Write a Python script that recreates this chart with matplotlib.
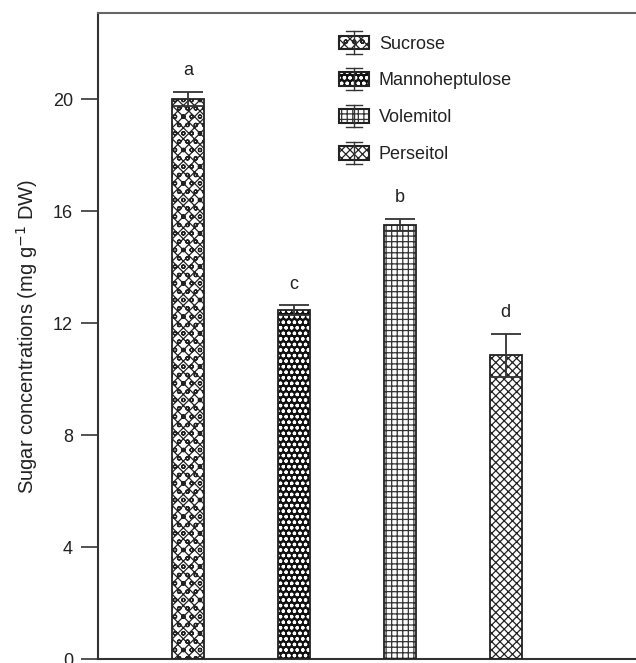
import matplotlib
matplotlib.use("Agg")
import matplotlib.pyplot as plt
from matplotlib.patches import Rectangle
from matplotlib.lines import Line2D
from matplotlib.legend_handler import HandlerBase

categories = ["Sucrose", "Mannoheptulose", "Volemitol", "Perseitol"]
values = [20.0, 12.45, 15.5, 10.85]
errors = [0.25, 0.18, 0.22, 0.77]
letters = ["a", "c", "b", "d"]
yticks = [0, 4, 8, 12, 16, 20]

plt.rcParams['font.family'] = ['Liberation Sans', 'DejaVu Sans']
plt.rcParams['hatch.linewidth'] = 0.9

fig = plt.figure(figsize=(6.36, 6.63), dpi=100)
ax = fig.add_axes([98/636, 1-659/663, 1-98/636, (659-13)/663])

x = list(range(len(categories)))
width = 0.30
styles = [
    dict(face='white', hatch='xxxoo', hcol='#222222'),
    dict(face='#111111', hatch='ooo', hcol='white'),
    dict(face='white', hatch='+++', hcol='#333333'),
    dict(face='white', hatch='xxxx', hcol='#222222'),
]
for xi, v, st in zip(x, values, styles):
    ax.bar(xi, v, width, color=st['face'], edgecolor=st['hcol'], hatch=st['hatch'], linewidth=0, zorder=2)
    ax.bar(xi, v, width, fill=False, edgecolor='#222222', linewidth=1.3, zorder=3)

ax.errorbar(x, values, yerr=errors, fmt='none', ecolor='#333333', elinewidth=1.3,
            capsize=10.5, capthick=1.3, zorder=4)
for xi, v, e, l in zip(x, values, errors, letters):
    ax.text(xi, v + e + 0.45, l, ha='center', va='bottom', fontsize=13, color='#222222')

ax.set_xlim(-0.85, 4.23)
ax.set_ylim(0, (659-13)/28)
ax.set_yticks(yticks)
ax.set_yticklabels([str(t) for t in yticks], fontsize=13, color='#222222')
ax.set_xticks([])
ax.tick_params(axis='y', direction='out', length=12, width=1.3, color='#444444', pad=6)
ax.spines['right'].set_visible(False)
ax.spines['left'].set_color('#333333')
ax.spines['bottom'].set_color('#333333')
ax.spines['top'].set_color('#666666')
for s in ['left', 'bottom', 'top']:
    ax.spines[s].set_linewidth(1.5)
ax.set_ylabel("Sugar concentrations (mg g$^{-1}$ DW)", fontsize=14.5, color='#222222', labelpad=9)


class BarHandle:
    def __init__(self, st):
        self.st = st


class HandlerBar(HandlerBase):
    def create_artists(self, legend, orig_handle, xdescent, ydescent, width, height, fontsize, trans):
        st = orig_handle.st
        rh = height * 0.75
        y0 = -ydescent + (height - rh) / 2
        r1 = Rectangle((-xdescent, y0), width, rh, facecolor=st['face'], edgecolor=st['hcol'],
                       hatch=st['hatch'], linewidth=0, transform=trans)
        r2 = Rectangle((-xdescent, y0), width, rh, fill=False, edgecolor='#222222',
                       linewidth=1.5, transform=trans)
        cx = -xdescent + width / 2
        ytop = -ydescent + height * 1.1
        ybot = -ydescent - height * 0.1
        l1 = Line2D([cx, cx], [ybot, ytop], color='#333333', lw=1.0, transform=trans)
        l2 = Line2D([cx - width * 0.28, cx + width * 0.28], [ytop, ytop], color='#333333', lw=1.0, transform=trans)
        l3 = Line2D([cx - width * 0.28, cx + width * 0.28], [ybot, ybot], color='#333333', lw=1.0, transform=trans)
        return [r1, r2, l1, l2, l3]


handles = [BarHandle(st) for st in styles]
leg = ax.legend(handles, categories, loc='upper left', bbox_to_anchor=((332-98)/538, 1-(26-13)/646),
                frameon=False, fontsize=13, handlelength=1.65, handleheight=1.2,
                labelspacing=0.97, handletextpad=0.55, borderaxespad=0,
                handler_map={BarHandle: HandlerBar()})
for t in leg.get_texts():
    t.set_color('#222222')

fig.savefig("out.png", dpi=100)
